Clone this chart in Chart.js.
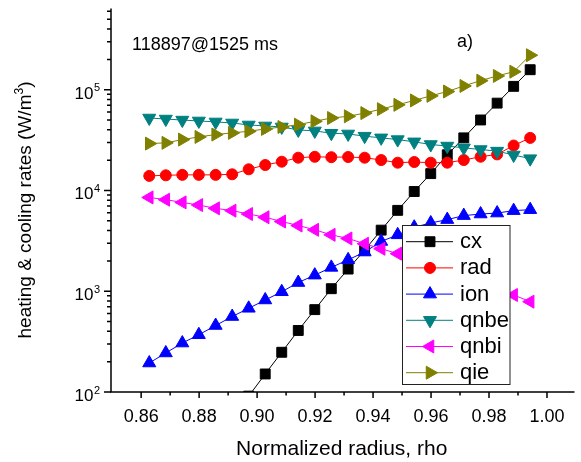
<!DOCTYPE html>
<html>
<head>
<meta charset="utf-8">
<script src="https://cdn.jsdelivr.net/npm/chart.js@4.4.1/dist/chart.umd.min.js"></script>
<style>
  html, body { margin: 0; padding: 0; background: #fff; overflow: hidden; }
</style>
</head>
<body>
<canvas id="myChartRates" width="581" height="462"></canvas>
<script>
// normalized radius of each profile point
const rho = [0.8628, 0.8685, 0.8742, 0.8799, 0.8857, 0.8914, 0.8971, 0.9028,
             0.9085, 0.9142, 0.9199, 0.9256, 0.9314, 0.9371, 0.9428, 0.9485,
             0.9542, 0.9599, 0.9656, 0.9713, 0.9771, 0.9828, 0.9885, 0.9942];

// rates in W/m^3
const cx   = [null, null, null, null, null, null, 91, 151, 248, 408, 657, 1060,
              1660, 2560, 4040, 6350, 9770, 14700, 22600, 33300, 50100, 73600, 108000, 158000];
const rad  = [13960, 14150, 14290, 14290, 14290, 14480, 16230, 17900, 19300, 21150, 21600, 21400,
              21500, 21150, 20060, 18870, 19170, 18870, 18870, 20060, 21630, 22800, 27940, 33260];
const ion  = [194, 244, 306, 370, 457, 561, 677, 819, 988, 1220, 1445, 1725,
              2050, 2450, 3120, 3630, 4320, 4760, 5140, 5630, 5840, 5970, 6310, 6450];
const qnbe = [52400, 51200, 50000, 49000, 47900, 46800, 44700, 43700, 42700, 39900, 39000, 37000,
              36400, 34600, 33300, 32000, 30400, 28600, 27600, 26500, 25500, 24600, 22500, 20700];
const qnbi = [8530, 8100, 7620, 7160, 6650, 6310, 5840, 5420, 4920, 4490, 4070, 3630,
              3340, 2960, 2640, 2360, 2060, 1800, 1570, 1380, 1200, 1050, 918, 788];
const qie  = [29200, 29700, 32000, 34000, 35900, 37300, 38700, 40800, 42700, 45000, 48600, 52400,
              54500, 58600, 64200, 70800, 78300, 86900, 96000, 109000, 123000, 137000, 151000, 220000];

const seriesNames = ['cx', 'rad', 'ion', 'qnbe', 'qnbi', 'qie'];
const seriesValues = [cx, rad, ion, qnbe, qnbi, qie];

// axis ticks
const xTicks = [0.85, 0.86, 0.87, 0.88, 0.89, 0.90, 0.91, 0.92, 0.93, 0.94, 0.95, 0.96, 0.97, 0.98, 0.99, 1.00];
const xTickLabels = ['0.86', '0.88', '0.90', '0.92', '0.94', '0.96', '0.98', '1.00'];
const yDecades = [2, 3, 4, 5];
const yMinorSteps = [2, 3, 4, 5, 6, 7, 8, 9];

const FONT = '"Liberation Sans", Arial, sans-serif';
Chart.defaults.font.family = FONT;
Chart.defaults.color = '#000';

// marker look per series
const styles = [
    {color: '#000000', pointStyle: 'rect', rotation: 0, radius: 7},
    {color: '#ff0000', pointStyle: 'circle', rotation: 0, radius: 5.5},
    {color: '#0000ff', pointStyle: 'triangle', rotation: 0, radius: 7.5},
    {color: '#008080', pointStyle: 'triangle', rotation: 180, radius: 7.5},
    {color: '#ff00ff', pointStyle: 'triangle', rotation: -90, radius: 7.5},
    {color: '#808000', pointStyle: 'triangle', rotation: 90, radius: 7.5}
];

let datasets = [];
for (let i in seriesNames) {
    let st = styles[i];
    datasets.push({
        label: seriesNames[i],
        data: rho.map((x, k) => ({x: x, y: seriesValues[i][k]})),
        borderColor: st.color,
        backgroundColor: st.color,
        borderWidth: 1,
        tension: 0,
        pointStyle: st.pointStyle,
        pointRotation: st.rotation,
        pointRadius: st.radius,
        pointBackgroundColor: st.color,
        pointBorderColor: st.color,
        pointBorderWidth: 1,
        order: 5 - i
    });
}

const decorPlugin = {
    id: 'decor',
    afterDraw(chart) {
        const ctx = chart.ctx;
        const area = chart.chartArea;
        const xs = chart.scales.x;
        const ys = chart.scales.y;
        ctx.save();
        ctx.strokeStyle = '#000';
        ctx.fillStyle = '#000';
        ctx.lineWidth = 1.5;

        // axis lines (left and bottom only)
        ctx.beginPath();
        ctx.moveTo(area.left, area.top);
        ctx.lineTo(area.left, area.bottom);
        ctx.moveTo(area.left - 1, area.bottom);
        ctx.lineTo(area.right + 2, area.bottom);
        ctx.stroke();

        // x ticks
        ctx.beginPath();
        xs.ticks.forEach(t => {
            const px = xs.getPixelForValue(t.value);
            if (px < area.left + 2 || px > area.right) return;
            const len = xTickLabels.includes(t.value.toFixed(2)) ? 6 : 3.5;
            ctx.moveTo(px, area.bottom);
            ctx.lineTo(px, area.bottom + len);
        });
        // y ticks
        ys.ticks.forEach(t => {
            const py = ys.getPixelForValue(t.value);
            const len = t.major ? 7 : 4;
            ctx.moveTo(area.left, py);
            ctx.lineTo(area.left - len, py);
        });
        ctx.stroke();

        // y tick labels 10^n
        ctx.textBaseline = 'alphabetic';
        yDecades.forEach(d => {
            const py = ys.getPixelForValue(Math.pow(10, d));
            ctx.font = '17px ' + FONT;
            ctx.textAlign = 'right';
            ctx.fillText('10', 93.5, py + 9);
            ctx.font = '11px ' + FONT;
            ctx.textAlign = 'left';
            ctx.fillText(String(d), 94, py + 1.5);
        });

        // y title with superscript
        ctx.save();
        ctx.translate(31, 210);
        ctx.rotate(-Math.PI / 2);
        const t1 = 'heating & cooling rates (W/m', t2 = '3', t3 = ')';
        ctx.font = '19px ' + FONT;
        const w1 = ctx.measureText(t1).width, w3 = ctx.measureText(t3).width;
        ctx.font = '12px ' + FONT;
        const w2 = ctx.measureText(t2).width;
        let sx = -(w1 + w2 + w3) / 2;
        ctx.textAlign = 'left';
        ctx.font = '19px ' + FONT;
        ctx.fillText(t1, sx, 0);
        ctx.font = '12px ' + FONT;
        ctx.fillText(t2, sx + w1, -8);
        ctx.font = '19px ' + FONT;
        ctx.fillText(t3, sx + w1 + w2, 0);
        ctx.restore();

        // annotations
        ctx.font = '18px ' + FONT;
        ctx.textAlign = 'left';
        ctx.fillText('118897@1525 ms', 132, 50);
        ctx.fillText('a)', 457, 47);

        // legend box
        const lx = 402.5, ly = 225.5, lw = 107.5, lh = 159;
        ctx.fillStyle = '#fff';
        ctx.fillRect(lx, ly, lw, lh);
        ctx.lineWidth = 1;
        ctx.strokeStyle = '#222';
        ctx.strokeRect(lx, ly, lw, lh);
        ctx.font = '22px ' + FONT;
        for (let i = 0; i < seriesNames.length; i++) {
            const st = styles[i];
            const cy = 241.7 + i * 26.2;
            ctx.strokeStyle = st.color;
            ctx.fillStyle = st.color;
            ctx.lineWidth = 1;
            ctx.beginPath();
            ctx.moveTo(406, cy);
            ctx.lineTo(453, cy);
            ctx.stroke();
            Chart.helpers.drawPoint(ctx, {pointStyle: st.pointStyle, rotation: st.rotation, radius: st.radius, borderWidth: 1}, 430, cy);
            ctx.fillStyle = '#000';
            ctx.fillText(seriesNames[i], 460, cy + 6.5);
        }
        ctx.restore();
    }
};

let canvas = document.getElementById('myChartRates');
let myChartRates = new Chart(canvas, {
    type: 'line',
    data: {datasets: datasets},
    options: {
        responsive: false,
        animation: false,
        layout: {padding: {top: 7, right: 1, left: 0, bottom: 0}},
        plugins: {legend: {display: false}, tooltip: {enabled: false}},
        scales: {
            x: {
                type: 'linear',
                min: 0.8496,
                max: 1.0088,
                grid: {display: false, drawTicks: false},
                border: {display: false},
                afterBuildTicks: s => { s.ticks = xTicks.map(v => ({value: v})); },
                afterFit: s => { s.height = 70; },
                ticks: {
                    autoSkip: false,
                    maxRotation: 0,
                    padding: 14,
                    color: '#000',
                    font: {size: 18},
                    callback: v => {
                        const t = Number(v).toFixed(2);
                        return xTickLabels.includes(t) ? t : '';
                    }
                },
                title: {display: true, text: 'Normalized radius, rho', color: '#000', font: {size: 21}, padding: {top: 0, bottom: 0}}
            },
            y: {
                type: 'logarithmic',
                min: 100,
                max: 640000,
                grid: {display: false, drawTicks: false},
                border: {display: false},
                ticks: {display: false},
                afterBuildTicks: s => {
                    let list = [];
                    yDecades.forEach(d => {
                        const base = Math.pow(10, d);
                        list.push({value: base, major: true});
                        yMinorSteps.forEach(m => {
                            if (m * base <= s.max) list.push({value: m * base, major: false});
                        });
                    });
                    s.ticks = list;
                },
                afterFit: s => { s.width = 111; }
            }
        }
    },
    plugins: [decorPlugin]
});
</script>
</body>
</html>
